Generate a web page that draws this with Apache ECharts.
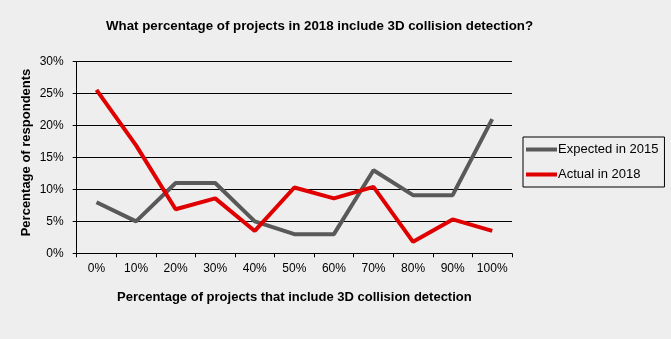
<!DOCTYPE html>
<html><head><meta charset="utf-8">
<script src="https://cdn.jsdelivr.net/npm/echarts@6/dist/echarts.min.js"></script>
<style>html,body{margin:0;padding:0;background:#eeeeee;}#c{width:671px;height:339px;}</style>
</head><body><div id="c"></div>
<script>
const categories = ['0%','10%','20%','30%','40%','50%','60%','70%','80%','90%','100%'];
const expected2015 = [8, 5, 11, 11, 5, 3, 3, 13, 9.1, 9.1, 21];
const actual2018 = [25.6, 16.9, 6.9, 8.6, 3.5, 10.3, 8.6, 10.4, 1.8, 5.3, 3.5];
const seriesNames = ['Expected in 2015', 'Actual in 2018'];
const chart = echarts.init(document.getElementById('c'), null, {renderer: 'canvas'});
const font = 'Liberation Sans, Arial, sans-serif';
chart.setOption({
  backgroundColor: '#eeeeee',
  animation: false,
  title: {
    text: 'What percentage of projects in 2018 include 3D collision detection?',
    left: 101, top: 15,
    textStyle: {fontFamily: font, fontSize: 13.3, fontWeight: 'bold', color: '#000'}
  },
  legend: {
    orient: 'vertical', left: 523, top: 137,
    width: 142,
    borderColor: '#000', borderWidth: 1,
    padding: [6, 6, 6, 3],
    itemGap: 12, itemWidth: 31, itemHeight: 4,
    icon: 'rect',
    textStyle: {fontFamily: font, fontSize: 13, color: '#000', padding: [0, 6, 0, -4]},
    data: seriesNames
  },
  grid: {left: 76.7, right: 159, top: 61.7, bottom: 85.7, containLabel: false},
  xAxis: {
    type: 'category', data: categories, boundaryGap: true,
    name: 'Percentage of projects that include 3D collision detection',
    nameLocation: 'middle', nameGap: 38,
    nameTextStyle: {fontFamily: font, fontSize: 13, fontWeight: 'bold', color: '#000'},
    axisLine: {lineStyle: {color: '#000', width: 1}},
    axisTick: {show: true, length: 4, interval: 0, lineStyle: {color: '#000'}},
    axisLabel: {fontFamily: font, fontSize: 12, color: '#000', margin: 9, interval: 0}
  },
  yAxis: {
    type: 'value', min: 0, max: 30, interval: 5,
    name: 'Percentage of respondents',
    nameLocation: 'middle', nameGap: 44, nameMoveOverlap: false,
    nameTextStyle: {fontFamily: font, fontSize: 13, fontWeight: 'bold', color: '#000', padding: [0, 0, 0, 10]},
    axisLine: {show: true, lineStyle: {color: '#000', width: 1}},
    axisTick: {show: true, length: 4, lineStyle: {color: '#000'}},
    axisLabel: {fontFamily: font, fontSize: 12, color: '#000', margin: 13, formatter: v => v + '%'},
    splitLine: {show: true, lineStyle: {color: '#000', width: 1}}
  },
  series: [
    {name: seriesNames[0], type: 'line', data: expected2015, showSymbol: false, symbol: 'none',
     lineStyle: {color: '#595959', width: 4}, itemStyle: {color: '#595959'}},
    {name: seriesNames[1], type: 'line', data: actual2018, showSymbol: false, symbol: 'none',
     lineStyle: {color: '#e00000', width: 4}, itemStyle: {color: '#e00000'}}
  ]
});
</script></body></html>
